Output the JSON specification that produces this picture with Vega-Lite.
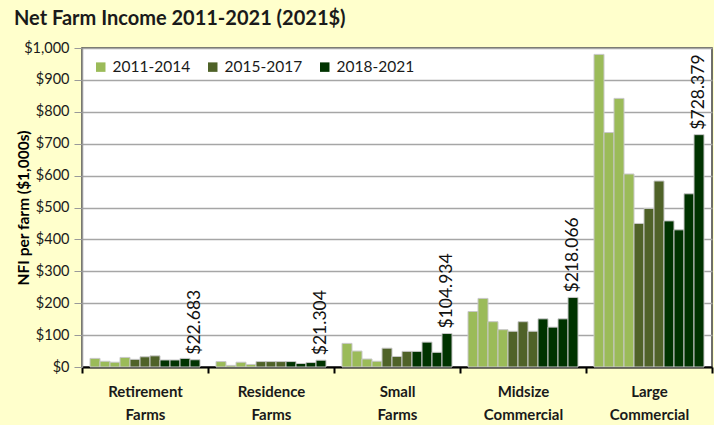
{
  "$schema": "https://vega.github.io/schema/vega-lite/v6.json",
  "width": 630,
  "height": 319,
  "autosize": {"type": "none"},
  "padding": {"left": 82, "top": 48, "right": 2, "bottom": 58},
  "background": "#FFFFCC",
  "title": {"text": "Net Farm Income 2011-2021 (2021$)", "anchor": "start", "frame": "group", "dx": -68, "offset": 11, "fontSize": 20, "font": "Lato", "fontWeight": "bold", "color": "#1a1a1a"},
  "data": {"values": [
    {"group": "Retirement Farms", "year": 2011, "period": "2011-2014", "v": 27},
    {"group": "Retirement Farms", "year": 2012, "period": "2011-2014", "v": 18},
    {"group": "Retirement Farms", "year": 2013, "period": "2011-2014", "v": 15},
    {"group": "Retirement Farms", "year": 2014, "period": "2011-2014", "v": 30},
    {"group": "Retirement Farms", "year": 2015, "period": "2015-2017", "v": 24},
    {"group": "Retirement Farms", "year": 2016, "period": "2015-2017", "v": 32},
    {"group": "Retirement Farms", "year": 2017, "period": "2015-2017", "v": 35},
    {"group": "Retirement Farms", "year": 2018, "period": "2018-2021", "v": 22},
    {"group": "Retirement Farms", "year": 2019, "period": "2018-2021", "v": 22},
    {"group": "Retirement Farms", "year": 2020, "period": "2018-2021", "v": 27},
    {"group": "Retirement Farms", "year": 2021, "period": "2018-2021", "v": 22.683},
    {"group": "Residence Farms", "year": 2011, "period": "2011-2014", "v": 17},
    {"group": "Residence Farms", "year": 2012, "period": "2011-2014", "v": 5},
    {"group": "Residence Farms", "year": 2013, "period": "2011-2014", "v": 15},
    {"group": "Residence Farms", "year": 2014, "period": "2011-2014", "v": 8},
    {"group": "Residence Farms", "year": 2015, "period": "2015-2017", "v": 17},
    {"group": "Residence Farms", "year": 2016, "period": "2015-2017", "v": 17},
    {"group": "Residence Farms", "year": 2017, "period": "2015-2017", "v": 17},
    {"group": "Residence Farms", "year": 2018, "period": "2018-2021", "v": 17},
    {"group": "Residence Farms", "year": 2019, "period": "2018-2021", "v": 11},
    {"group": "Residence Farms", "year": 2020, "period": "2018-2021", "v": 14},
    {"group": "Residence Farms", "year": 2021, "period": "2018-2021", "v": 21.304},
    {"group": "Small Farms", "year": 2011, "period": "2011-2014", "v": 74},
    {"group": "Small Farms", "year": 2012, "period": "2011-2014", "v": 50},
    {"group": "Small Farms", "year": 2013, "period": "2011-2014", "v": 25},
    {"group": "Small Farms", "year": 2014, "period": "2011-2014", "v": 18},
    {"group": "Small Farms", "year": 2015, "period": "2015-2017", "v": 59},
    {"group": "Small Farms", "year": 2016, "period": "2015-2017", "v": 33},
    {"group": "Small Farms", "year": 2017, "period": "2015-2017", "v": 49},
    {"group": "Small Farms", "year": 2018, "period": "2018-2021", "v": 49},
    {"group": "Small Farms", "year": 2019, "period": "2018-2021", "v": 78},
    {"group": "Small Farms", "year": 2020, "period": "2018-2021", "v": 46},
    {"group": "Small Farms", "year": 2021, "period": "2018-2021", "v": 104.934},
    {"group": "Midsize Commercial", "year": 2011, "period": "2011-2014", "v": 174},
    {"group": "Midsize Commercial", "year": 2012, "period": "2011-2014", "v": 215},
    {"group": "Midsize Commercial", "year": 2013, "period": "2011-2014", "v": 142},
    {"group": "Midsize Commercial", "year": 2014, "period": "2011-2014", "v": 117},
    {"group": "Midsize Commercial", "year": 2015, "period": "2015-2017", "v": 112},
    {"group": "Midsize Commercial", "year": 2016, "period": "2015-2017", "v": 142},
    {"group": "Midsize Commercial", "year": 2017, "period": "2015-2017", "v": 112},
    {"group": "Midsize Commercial", "year": 2018, "period": "2018-2021", "v": 151},
    {"group": "Midsize Commercial", "year": 2019, "period": "2018-2021", "v": 125},
    {"group": "Midsize Commercial", "year": 2020, "period": "2018-2021", "v": 151},
    {"group": "Midsize Commercial", "year": 2021, "period": "2018-2021", "v": 218.066},
    {"group": "Large Commercial", "year": 2011, "period": "2011-2014", "v": 980},
    {"group": "Large Commercial", "year": 2012, "period": "2011-2014", "v": 735},
    {"group": "Large Commercial", "year": 2013, "period": "2011-2014", "v": 842},
    {"group": "Large Commercial", "year": 2014, "period": "2011-2014", "v": 605},
    {"group": "Large Commercial", "year": 2015, "period": "2015-2017", "v": 450},
    {"group": "Large Commercial", "year": 2016, "period": "2015-2017", "v": 497},
    {"group": "Large Commercial", "year": 2017, "period": "2015-2017", "v": 583},
    {"group": "Large Commercial", "year": 2018, "period": "2018-2021", "v": 458},
    {"group": "Large Commercial", "year": 2019, "period": "2018-2021", "v": 430},
    {"group": "Large Commercial", "year": 2020, "period": "2018-2021", "v": 543},
    {"group": "Large Commercial", "year": 2021, "period": "2018-2021", "v": 728.379}
  ]},
  "encoding": {
    "x": {
      "field": "group", "type": "nominal", "sort": null,
      "scale": {"paddingInner": 0, "paddingOuter": 0},
      "axis": {
        "title": null, "labelAngle": 0, "labelExpr": "split(datum.label, ' ')",
        "labelFont": "Lato", "labelFontSize": 15, "labelFontWeight": "bold", "labelColor": "#1a1a1a",
        "labelPadding": 11, "labelLineHeight": 23,
        "tickBand": "extent", "tickColor": "black", "tickWidth": 2, "tickSize": 6,
        "domainColor": "black", "domainWidth": 2, "grid": false
      }
    },
    "xOffset": {"field": "year", "type": "ordinal", "scale": {"paddingInner": 0, "paddingOuter": 0.8}},
    "y": {
      "field": "v", "type": "quantitative",
      "scale": {"domain": [0, 1000]},
      "axis": {
        "values": [0, 100, 200, 300, 400, 500, 600, 700, 800, 900, 1000],
        "format": "$,.0f", "title": "NFI per farm ($1,000s)",
        "titleFont": "Lato", "titleFontSize": 15.5, "titleFontWeight": "bold", "titleColor": "black", "titleX": -51,
        "labelFont": "Lato", "labelFontSize": 14.5, "labelColor": "#1a1a1a", "labelPadding": 5,
        "tickColor": "#999999", "tickSize": 8, "domainColor": "#999999", "domainWidth": 1.5,
        "gridColor": "#a6a6a6", "gridWidth": 1.5
      }
    }
  },
  "layer": [
    {
      "mark": {"type": "bar", "stroke": "#c8c8c8", "strokeWidth": 1},
      "encoding": {
        "color": {
          "field": "period", "type": "nominal",
          "scale": {"domain": ["2011-2014", "2015-2017", "2018-2021"], "range": ["#9BBB59", "#4F6228", "#003300"]},
          "legend": {
            "title": null, "orient": "top-left", "direction": "horizontal", "offset": 11,
            "symbolType": "square", "symbolSize": 90, "symbolStrokeWidth": 0,
            "labelFont": "Lato", "labelFontSize": 15.5, "labelColor": "#1a1a1a", "columnPadding": 14, "padding": 0
          }
        }
      }
    },
    {
      "transform": [{"filter": "datum.year == 2021"}],
      "mark": {"type": "text", "angle": 270, "align": "left", "baseline": "middle", "dx": 5, "font": "Lato", "fontSize": 17.5, "color": "#111111"},
      "encoding": {"text": {"field": "v", "type": "quantitative", "format": "$.3f"}}
    }
  ],
  "config": {"view": {"fill": "white", "stroke": "#404040", "strokeWidth": 1.5}}
}
